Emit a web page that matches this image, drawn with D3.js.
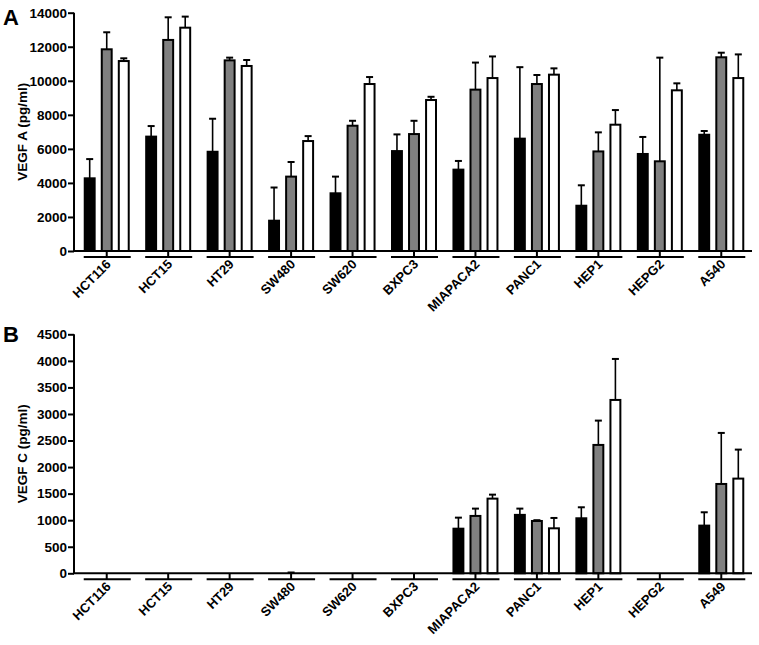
<!DOCTYPE html>
<html><head><meta charset="utf-8">
<script src="https://cdn.jsdelivr.net/npm/d3@7"></script>
<style>body{margin:0;background:#fff}svg{display:block}text{font-family:"Liberation Sans",Arial,sans-serif;font-weight:bold;fill:#000}</style>
</head><body>
<svg id="c" width="759" height="645"></svg>
<script>
const series = ["s1","s2","s3"];
const fills = ["#000000","#808080","#ffffff"];

const catsA = ["HCT116","HCT15","HT29","SW480","SW620","BXPC3","MIAPACA2","PANC1","HEP1","HEPG2","A540"];
const meanA1 = [4270,6720,5830,1780,3390,5870,4780,6600,2660,5700,6830];
const errA1  = [5400,7340,7770,3730,4370,6850,5290,10800,3860,6700,7050];
const meanA2 = [11850,12400,11200,4370,7360,6870,9480,9810,5850,5270,11380];
const errA2  = [12850,13730,11360,5230,7650,7650,11070,10340,6970,11360,11650];
const meanA3 = [11160,13120,10870,6460,9810,8870,10160,10360,7420,9440,10160];
const errA3  = [11320,13770,11220,6750,10220,9060,11430,10730,8280,9850,11550];
const ticksA = [0,2000,4000,6000,8000,10000,12000,14000];

const catsB = ["HCT116","HCT15","HT29","SW480","SW620","BXPC3","MIAPACA2","PANC1","HEP1","HEPG2","A549"];
const meanB1 = [0,0,0,0,0,0,840,1100,1036,0,898];
const errB1  = [0,0,0,0,0,0,1048,1218,1243,0,1149];
const meanB2 = [0,0,0,0,0,0,1080,985,2417,0,1682];
const errB2  = [0,0,0,15,0,0,1218,1000,2875,0,2643];
const meanB3 = [0,0,0,0,0,0,1406,847,3264,0,1783];
const errB3  = [0,0,0,0,0,0,1481,1042,4036,0,2329];
const ticksB = [0,500,1000,1500,2000,2500,3000,3500,4000,4500];

const svg = d3.select("#c");

function panel(o){
  const g = svg.append("g");
  const x0 = d3.scaleBand().domain(o.cats).range([76,752]);
  const gw = 46;
  const x1 = d3.scaleBand().domain(series).range([-gw/2, gw/2]).paddingInner(0.3);
  const y = d3.scaleLinear().domain([0,o.ymax]).range([o.y0,o.y1]);
  const cx = c => x0(c)+x0.bandwidth()/2;
  const means=[o.m1,o.m2,o.m3], errs=[o.e1,o.e2,o.e3];

  series.forEach((s,si)=>{
    const data = o.cats.map((c,i)=>({c,v:means[si][i],e:errs[si][i]}));
    const eg = g.append("g").attr("stroke","#000").attr("stroke-width",1.6);
    data.filter(d=>d.e>d.v).forEach(d=>{
      const xc = cx(d.c)+x1(s)+x1.bandwidth()/2;
      eg.append("line").attr("x1",xc).attr("x2",xc).attr("y1",y(d.v)).attr("y2",y(d.e));
      eg.append("line").attr("x1",xc-3.5).attr("x2",xc+3.5).attr("y1",y(d.e)).attr("y2",y(d.e)).attr("stroke-width",2);
    });
    g.append("g").selectAll("rect").data(data.filter(d=>d.v>0)).join("rect")
      .attr("x",d=>cx(d.c)+x1(s)+1).attr("width",x1.bandwidth()-2)
      .attr("y",d=>y(d.v)).attr("height",d=>y(0)-y(d.v))
      .attr("fill",fills[si]).attr("stroke","#000").attr("stroke-width",2);
  });

  const ya = g.append("g").attr("transform","translate(74,0)")
    .call(d3.axisLeft(y).tickValues(o.ticks).tickSize(6).tickPadding(1).tickFormat(d3.format("d")));
  ya.select(".domain").attr("stroke-width",2).attr("d",`M0,${y(o.ymax)}V${y(0)}`);
  ya.selectAll(".tick line").attr("stroke-width",2);
  ya.selectAll(".tick text").attr("font-size",13.5).attr("font-weight","bold").attr("font-family","Liberation Sans, Arial, sans-serif");

  g.append("line").attr("x1",73).attr("x2",752).attr("y1",y(0)).attr("y2",y(0)).attr("stroke","#000").attr("stroke-width",2);
  const xg = g.append("g").attr("stroke","#000").attr("stroke-width",2);
  o.cats.forEach(c=>{
    const xc = cx(c);
    xg.append("line").attr("x1",xc-23).attr("x2",xc+24).attr("y1",y(0)+6).attr("y2",y(0)+6);
    xg.append("line").attr("x1",xc).attr("x2",xc).attr("y1",y(0)).attr("y2",y(0)+6);
  });
  g.append("g").selectAll("text").data(o.cats).join("text")
    .attr("transform",c=>`translate(${cx(c)+5},${y(0)+14}) rotate(-45)`)
    .attr("text-anchor","end").attr("font-size",13).text(c=>c);

  g.append("text").attr("transform",`translate(27,${(y(0)+y(o.ymax))/2}) rotate(-90)`)
    .attr("text-anchor","middle").attr("font-size",13.5).text(o.title);
  g.append("text").attr("x",3).attr("y",o.letterY).attr("font-size",22).text(o.letter);
}

panel({cats:catsA,m1:meanA1,e1:errA1,m2:meanA2,e2:errA2,m3:meanA3,e3:errA3,ticks:ticksA,ymax:14000,y0:251,y1:12.7,title:"VEGF A (pg/ml)",letter:"A",letterY:25});
panel({cats:catsB,m1:meanB1,e1:errB1,m2:meanB2,e2:errB2,m3:meanB3,e3:errB3,ticks:ticksB,ymax:4500,y0:573.3,y1:334.3,title:"VEGF C (pg/ml)",letter:"B",letterY:342});
</script>
</body></html>
